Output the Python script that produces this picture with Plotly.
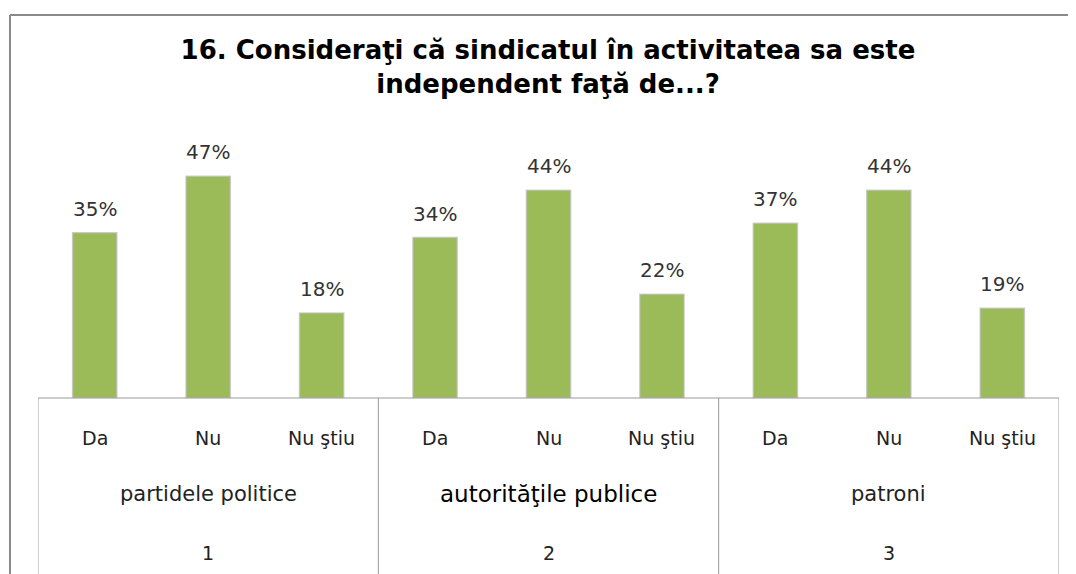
import plotly.graph_objects as go

# date
raspunsuri = ["Da", "Nu", "Nu ştiu"]
grupuri = ["partidele politice", "autorităţile publice", "patroni"]
numere = ["1", "2", "3"]
procente = [35, 47, 18, 34, 44, 22, 37, 44, 19]

# pagina html are 8px margine, deci figura e mai mica cu 8px
OFF = 8
W, H = 1076 - OFF, 574 - OFF
ML, MR, MT, MB = 38 - OFF, 17, 162 - OFF, 176
plot_w = W - ML - MR
plot_h = H - MT - MB

FONT = "DejaVu Sans, Verdana, sans-serif"

x = list(range(len(procente)))

fig = go.Figure()
fig.add_trace(go.Bar(
    x=x, y=procente, width=0.39,
    marker=dict(color="#9BBB59", line=dict(color="rgba(190,190,190,0.7)", width=1.5)),
    hoverinfo="skip",
))

# etichete de valori deasupra barelor
for xi, v in zip(x, procente):
    fig.add_annotation(x=xi, y=v, text=f"{v}%", showarrow=False, yshift=24,
                       font=dict(family=FONT, size=20, color="#333"))

def py(pix):
    # pozitie verticala (pixeli din imagine) -> coordonate paper
    return (MT + plot_h - (pix - OFF)) / plot_h

def px_(pix):
    return (pix - OFF - ML) / plot_w

# eticheta de categorie, grupa si numar
for g in range(len(grupuri)):
    for k, r in enumerate(raspunsuri):
        fig.add_annotation(x=g * 3 + k, y=py(438), xref="x", yref="paper", text=r,
                           showarrow=False, yanchor="middle",
                           font=dict(family=FONT, size=19, color="#222"))
    fig.add_annotation(x=g * 3 + 1, y=py(494), xref="x", yref="paper", text=grupuri[g],
                       showarrow=False, yanchor="middle",
                       font=dict(family=FONT, size=23 if g == 1 else 21,
                                 color="#000" if g == 1 else "#222"))
    fig.add_annotation(x=g * 3 + 1, y=py(553), xref="x", yref="paper", text=numere[g],
                       showarrow=False, yanchor="middle",
                       font=dict(family=FONT, size=19, color="#222"))

# liniile tabelului de sub axa
line_c = "#9a9a9a"
fig.add_shape(type="line", xref="x", yref="paper", x0=-0.5, x1=len(x) - 0.5, y0=0, y1=0,
              line=dict(color=line_c, width=1))
for b in [-0.5, 2.5, 5.5, 8.5]:
    fig.add_shape(type="line", xref="x", yref="paper", x0=b, x1=b, y0=0, y1=py(580),
                  line=dict(color=line_c, width=1))

# chenarul exterior al graficului
frame_c = "#8a8a8a"
fig.add_shape(type="line", xref="paper", yref="paper", x0=px_(10), x1=px_(1090),
              y0=py(15), y1=py(15), line=dict(color=frame_c, width=2))
fig.add_shape(type="line", xref="paper", yref="paper", x0=px_(10), x1=px_(10),
              y0=py(15), y1=py(580), line=dict(color=frame_c, width=2))

fig.update_layout(
    width=W, height=H,
    margin=dict(l=ML, r=MR, t=MT, b=MB),
    paper_bgcolor="white", plot_bgcolor="white",
    showlegend=False,
    title=dict(
        text="<b>16. Consideraţi că sindicatul în activitatea sa este<br>independent faţă de...?</b>",
        x=(548 - OFF) / W, xanchor="center", y=1 - (59 - OFF) / H, yanchor="middle",
        font=dict(family=FONT, size=26, color="#000"),
    ),
    xaxis=dict(range=[-0.5, len(x) - 0.5], showticklabels=False, showgrid=False,
               zeroline=False, showline=False, ticks=""),
    yaxis=dict(range=[0, 50], visible=False, showgrid=False, zeroline=False),
)

fig.write_html("out.html")
